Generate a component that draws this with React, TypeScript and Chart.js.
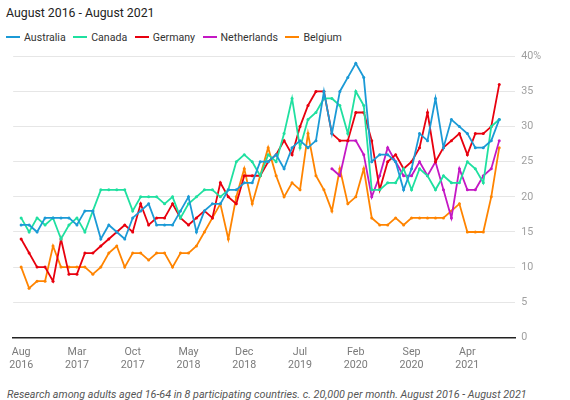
import { useEffect, useRef } from "react";
import { Chart, registerables } from "chart.js";

Chart.register(...registerables);

// months since Aug 2016 that carry an axis label
const xTickPositions = [0, 7, 14, 21, 28, 35, 42, 49, 56];
const xTickMonths = ["Aug", "Mar", "Oct", "May", "Dec", "Jul", "Feb", "Sep", "Apr"];
const xTickYears = ["2016", "2017", "2017", "2018", "2018", "2019", "2020", "2020", "2021"];

const seriesNames = ["Australia", "Canada", "Germany", "Netherlands", "Belgium"];
const seriesColors = ["#1b9ad6", "#1fe0a0", "#e8000e", "#c418c4", "#ff8400"];

// monthly values, Aug 2016 .. Aug 2021 (%)
const australia = [
  16, 16, 15, 17, 17, 17, 17, 16, 18, 18,
  14, 16, 15, 14, 17, 18, 19, 16, 16, 16,
  18, 20, 15, 18, 19, 19, 21, 21, 22, 22,
  25, 25, 26, 24, 27, 28, 27, 28, 35, 29,
  35, 37, 39, 37, 25, 26, 26, 25, 21, 24,
  29, 28, 34, 27, 31, 30, 29, 27, 27, 28,
  31,
];
const canada = [
  17, 15, 17, 16, 17, 14, 16, 17, 15, 18,
  21, 21, 21, 21, 18, 20, 20, 20, 19, 20,
  17, 19, 20, 21, 21, 20, 21, 25, 26, 25,
  23, 26, 25, 29, 34, 27, 31, 32, 34, 34,
  33, 29, 35, 33, 21, 21, 22, 22, 24, 21,
  24, 23, 21, 23, 22, 22, 25, 24, 22, 30,
  31,
];
const germany = [
  14, 12, 10, 10, 8, 14, 9, 9, 12, 12,
  13, 14, 15, 16, 15, 19, 16, 17, 17, 19,
  17, 16, 17, 18, 17, 22, 20, 19, 23, 23,
  23, 25, 26, 28, 26, 30, 33, 35, 35, 29,
  28, 28, 32, 32, 28, 21, 25, 26, 24, 25,
  27, 32, 25, 27, 28, 29, 26, 29, 29, 30,
  36,
];
const netherlands = [
  null, null, null, null, null, null, null, null, null, null,
  null, null, null, null, null, null, null, null, null, null,
  null, null, null, null, null, null, null, null, null, null,
  null, null, null, null, null, null, null, null, null, 24,
  23, 28, 28, 26, 20, 23, 27, 25, 23, 23,
  25, 23, 25, 21, 17, 24, 21, 21, 23, 24,
  28,
];
const belgium = [
  10, 7, 8, 8, 13, 10, 10, 10, 10, 9,
  10, 12, 13, 10, 12, 12, 11, 12, 12, 10,
  12, 12, 13, 15, 17, 19, 14, 20, 24, 19,
  23, 27, 23, 20, 22, 21, 29, 23, 21, 18,
  24, 19, 20, 24, 17, 16, 16, 17, 16, 17,
  17, 17, 17, 17, 18, 19, 15, 15, 15, 20,
  27,
];

const seriesValues = [australia, canada, germany, netherlands, belgium];

const FONT = "Roboto, sans-serif";

export default function App() {
  const canvasRef = useRef<HTMLCanvasElement>(null);

  useEffect(() => {
    document.body.style.margin = "0";
    document.body.style.overflow = "hidden";
    const ctx = canvasRef.current?.getContext("2d");
    if (!ctx) return;

    const chart = new Chart(ctx, {
      type: "line",
      data: {
        datasets: seriesNames.map((name, s) => ({
          label: name,
          data: seriesValues[s].map((y, x) => ({ x, y })),
          borderColor: seriesColors[s],
          backgroundColor: seriesColors[s],
          borderWidth: 1.8,
          pointRadius: 1.5,
          pointBorderWidth: 0,
          pointHoverRadius: 0,
          tension: 0,
          spanGaps: false,
        })),
      },
      options: {
        animation: false,
        responsive: true,
        maintainAspectRatio: false,
        layout: { padding: { top: 16.3, left: 9, right: 23, bottom: 0 } },
        plugins: {
          legend: { display: false },
          tooltip: { enabled: false },
        },
        scales: {
          x: {
            type: "linear",
            min: -1,
            max: 62,
            afterBuildTicks: (scale: any) => {
              scale.ticks = xTickPositions.map((v) => ({ value: v }));
            },
            ticks: {
              autoSkip: false,
              maxRotation: 0,
              padding: 9,
              color: "#7a7a7a",
              font: { family: FONT, size: 10.7, lineHeight: 1.15 },
              callback: (v: any) => {
                const k = xTickPositions.indexOf(Number(v));
                return k < 0 ? "" : [xTickMonths[k], xTickYears[k]];
              },
            },
            grid: { drawOnChartArea: false, drawTicks: false },
            border: { display: true, color: "#222", width: 1.5 },
          },
          y: {
            position: "right",
            min: 0,
            max: 40,
            ticks: {
              stepSize: 5,
              padding: 6,
              color: "#a0a0a0",
              font: { family: FONT, size: 10.7 },
              callback: (v: any) => (v === 40 ? "40%" : String(v)),
            },
            grid: { color: "#e6e6e6", drawTicks: false },
            border: { display: false },
          },
        },
      },
    });

    return () => chart.destroy();
  }, []);

  return (
    <div
      style={{
        position: "relative",
        width: 570,
        height: 400,
        overflow: "hidden",
        background: "#fff",
        fontFamily: FONT,
      }}
    >
      <div
        style={{
          position: "absolute",
          left: 6,
          top: 5.5,
          fontSize: 12.3,
          lineHeight: "14px",
          color: "#222",
          whiteSpace: "nowrap",
        }}
      >
        August 2016 - August 2021
      </div>
      <div
        style={{
          position: "absolute",
          left: 6,
          top: 30,
          height: 14,
          display: "flex",
          alignItems: "center",
          fontSize: 10.6,
          color: "#333",
          whiteSpace: "nowrap",
        }}
      >
        {seriesNames.map((name, s) => (
          <span
            key={name}
            style={{ display: "flex", alignItems: "center", marginRight: 7.5 }}
          >
            <span
              style={{
                width: 14,
                height: 2,
                background: seriesColors[s],
                marginRight: 4,
              }}
            />
            {name}
          </span>
        ))}
      </div>
      <div
        style={{ position: "absolute", left: 0, top: 40, width: 570, height: 340 }}
      >
        <canvas ref={canvasRef} />
      </div>
      <div
        style={{
          position: "absolute",
          left: 7,
          top: 388,
          fontSize: 10.75,
          lineHeight: "14px",
          fontStyle: "italic",
          color: "#555",
          whiteSpace: "nowrap",
        }}
      >
        Research among adults aged 16-64 in 8 participating countries. c. 20,000
        per month. August 2016 - August 2021
      </div>
    </div>
  );
}
